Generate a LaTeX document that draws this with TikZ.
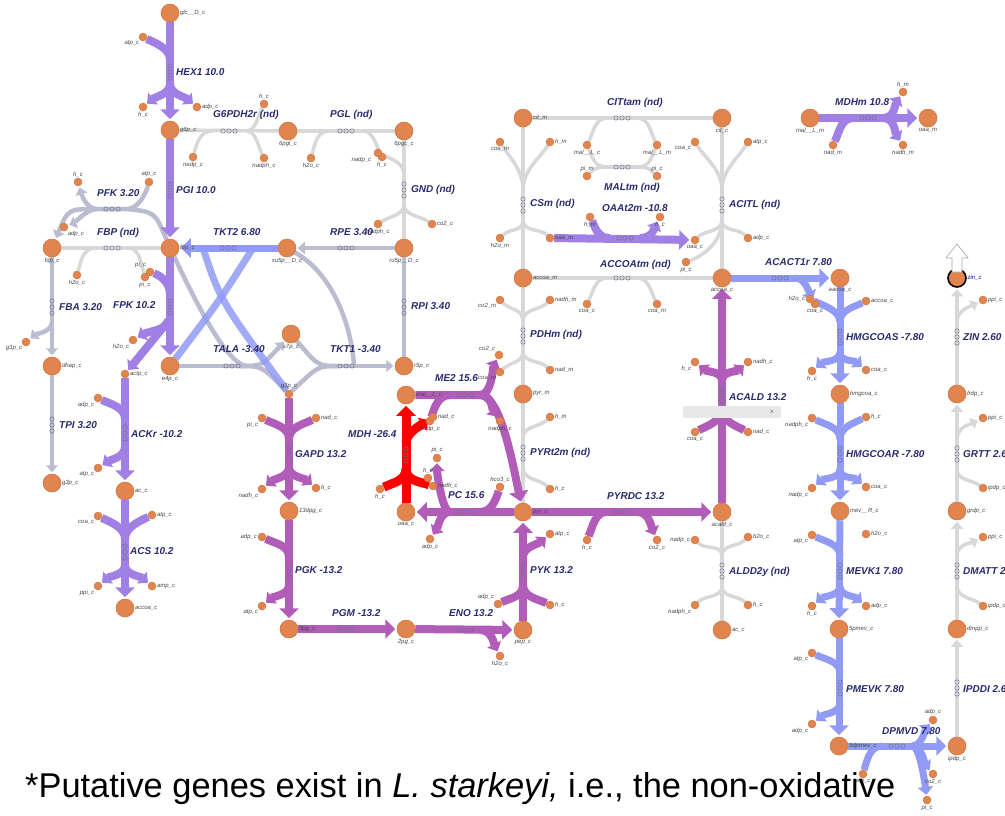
\documentclass[tikz,border=0pt]{standalone}
\usepackage{fontspec}
\setmainfont{Liberation Sans}
\usetikzlibrary{arrows.meta,calc}
\pgfdeclarelayer{bg}
\pgfsetlayers{bg,main}
\definecolor{metfill}{RGB}{226,132,78}
\definecolor{metdraw}{RGB}{205,112,62}
\definecolor{cpur}{RGB}{160,128,228}
\definecolor{cblue}{RGB}{145,155,245}
\definecolor{cglv}{RGB}{188,188,208}
\definecolor{cgry}{RGB}{216,216,216}
\definecolor{cmag}{RGB}{178,92,186}
\definecolor{cred}{RGB}{255,0,0}
\definecolor{rtext}{RGB}{42,42,112}
\definecolor{mtext}{RGB}{70,70,70}
\definecolor{mkc}{RGB}{110,110,140}
\definecolor{boxg}{RGB}{232,232,232}
\newcommand\mkv[2]{\foreach \q in {-6,0,6}{\draw[mk] (#1,#2+\q) circle[radius=2.2pt];}}
\newcommand\mkh[2]{\foreach \q in {-6,0,6}{\draw[mk] (#1+\q,#2) circle[radius=2.2pt];}}
\tikzset{
  every label/.style={font=\fontsize{6}{6}\selectfont\itshape,text=mtext,inner sep=0.6pt},
  met/.style={circle,fill=metfill,draw=metdraw,line width=0.5pt,inner sep=0pt,minimum size=18pt,label distance=0pt},
  sm/.style={circle,fill=metfill,draw=metdraw,line width=0.4pt,inner sep=0pt,minimum size=8pt,label distance=0pt},
  rl/.style={font=\fontsize{10}{11}\selectfont\bfseries\itshape,text=rtext,anchor=west,inner sep=0pt},
  pur/.style={draw=cpur,line width=8pt},
  blu/.style={draw=cblue,line width=7pt},
  mag/.style={draw=cmag,line width=8pt},
  rdx/.style={draw=cred,line width=9pt},
  glv/.style={draw=cglv,line width=4.5pt},
  gry/.style={draw=cgry,line width=3.5pt},
  ah/.style={-{Triangle[length=10pt,width=19pt]},shorten >=1.5pt},
  ahb/.style={-{Triangle[length=8pt,width=15pt]},shorten >=1pt},
  ahs/.style={-{Triangle[length=7pt,width=12pt]},shorten >=1.5pt},
  mk/.style={draw=mkc,line width=0.5pt},
}
\begin{document}
\begin{tikzpicture}[x=1pt,y=-1pt]
\useasboundingbox (0,0) rectangle (1005,815);
% ===== big metabolites
\node[met,label={right:glc\_\_D\_c}] (glc) at (170,13) {};
\node[met,label={right:g6p\_c}] (g6p) at (170,130) {};
\node[met,label={below:6pgl\_c}] (pgl6) at (288,131) {};
\node[met,label={below:6pgc\_c}] (pgc6) at (404,131) {};
\node[met,label={right:f6p\_c}] (f6p) at (170,248) {};
\node[met,label={below:fdp\_c}] (fdp) at (52,248) {};
\node[met,label={below:xu5p\_\_D\_c}] (xu5p) at (287,248) {};
\node[met,label={below:ru5p\_\_D\_c}] (ru5p) at (404,248) {};
\node[met,label={below:s7p\_c}] (s7p) at (291,334) {};
\node[met,label={right:r5p\_c}] (r5p) at (404,366) {};
\node[met,label={below:e4p\_c}] (e4p) at (170,366) {};
\node[met,label={right:dhap\_c}] (dhap) at (52,366) {};
\node[met,label={right:g3p\_c}] (g3pL) at (52,483) {};
\node[met,label={right:ac\_c}] (acc) at (125,491) {};
\node[met,label={right:accoa\_c}] (accoaL) at (125,608) {};
\node[met,label={right:13dpg\_c}] (dpg13) at (289,511) {};
\node[met,label={right:3pg\_c}] (pg3) at (289,629) {};
\node[met,label={below:2pg\_c}] (pg2) at (406,629) {};
\node[met,label={below:pep\_c}] (pep) at (523,630) {};
\node[met,label={right:pyr\_c}] (pyr) at (523,512) {};
\node[met,label={below:oaa\_c}] (oaa) at (406,512) {};
\node[met,label={right:mal\_\_L\_c}] (malc) at (406,395) {};
\node[met,label={right:pyr\_m}] (pyrm) at (523,394) {};
\node[met,label={right:accoa\_m}] (accoam) at (523,278) {};
\node[met,label={right:cit\_m}] (citm) at (523,118) {};
\node[met,label={below:cit\_c}] (citc) at (722,118) {};
\node[met,label={below:accoa\_c}] (accoaR) at (722,278) {};
\node[met,label={below:acald\_c}] (acald) at (722,512) {};
\node[met,label={right:ac\_c}] (acR) at (722,630) {};
\node[met,label={below:mal\_\_L\_m}] (malm) at (810,118) {};
\node[met,label={below:oaa\_m}] (oaam) at (928,118) {};
\node[met,label={below:aacoa\_c}] (aacoa) at (840,278) {};
\node[met,label={right:hmgcoa\_c}] (hmgcoa) at (840,394) {};
\node[met,label={right:mev\_\_R\_c}] (mev) at (840,511) {};
\node[met,label={right:5pmev\_c}] (pmev5) at (839,629) {};
\node[met,label={right:5dpmev\_c}] (dpmev5) at (839,746) {};
\node[met,label={below:ipdp\_c}] (ipdp) at (957,746) {};
\node[met,label={right:dmpp\_c}] (dmpp) at (957,629) {};
\node[met,label={right:grdp\_c}] (grdp) at (957,511) {};
\node[met,label={right:frdp\_c}] (frdp) at (957,394) {};
\node[met,draw=black,line width=1.6pt,label={[text=blue!70!black]right:zin\_c}] (zin) at (957,278) {};
% ===== small metabolites
\node[sm,label={above:g3p\_c}] (g3pS) at (289,394) {};
\node[sm,label={right:actp\_c}] (actp) at (125,374) {};
\node[sm,label={below left:atp\_c}] (hex_atp) at (143,37) {};
\node[sm,label={below:h\_c}] (hex_h) at (143,107) {};
\node[sm,label={right:adp\_c}] (hex_adp) at (197,107) {};
\node[sm,label={below:nadp\_c}] (g6pd_nadp) at (193,157) {};
\node[sm,label={above:h\_c}] (g6pd_h) at (264,104) {};
\node[sm,label={below:nadph\_c}] (g6pd_nadph) at (264,158) {};
\node[sm,label={below:h2o\_c}] (pgl_h2o) at (311,158) {};
\node[sm,label={below:h\_c}] (pgl_h) at (382,157) {};
\node[sm,label={[xshift=-3pt]below left:nadp\_c}] (gnd_nadp) at (378,153) {};
\node[sm,label={right:co2\_c}] (gnd_co2) at (432,224) {};
\node[sm,label={below:nadph\_c}] (gnd_nadph) at (378,224) {};
\node[sm,label={above:atp\_c}] (pfk_atp) at (149,182) {};
\node[sm,label={above:h\_c}] (pfk_h) at (78,182) {};
\node[sm,label={below right:adp\_c}] (pfk_adp) at (64,227) {};
\node[sm,label={below:h2o\_c}] (fbp_h2o) at (77,275) {};
\node[sm,label={below:pi\_c}] (fbp_pi) at (145,277) {};
\node[sm,label={above left:pi\_c}] (fpk_pi) at (150,272) {};
\node[sm,label={below left:g3p\_c}] (fba_g3p) at (26,342) {};
\node[sm,label={below left:h2o\_c}] (fpk_h2o) at (133,340) {};
\node[sm,label={below left:adp\_c}] (ack_adp) at (98,398) {};
\node[sm,label={below left:atp\_c}] (ack_atp) at (98,468) {};
\node[sm,label={below left:coa\_c}] (acs_coa) at (98,516) {};
\node[sm,label={right:atp\_c}] (acs_atp) at (152,515) {};
\node[sm,label={below left:ppi\_c}] (acs_ppi) at (98,586) {};
\node[sm,label={right:amp\_c}] (acs_amp) at (152,586) {};
\node[sm,label={below left:pi\_c}] (gapd_pi) at (262,418) {};
\node[sm,label={right:nad\_c}] (gapd_nad) at (316,418) {};
\node[sm,label={below left:nadh\_c}] (gapd_nadh) at (262,489) {};
\node[sm,label={right:h\_c}] (gapd_h) at (316,488) {};
\node[sm,label={left:adp\_c}] (pgk_adp) at (262,537) {};
\node[sm,label={below left:atp\_c}] (pgk_atp) at (262,606) {};
\node[sm,label={below:h2o\_c}] (eno_h2o) at (500,656) {};
\node[sm,label={above left:adp\_c}] (pyk_adp) at (498,604) {};
\node[sm,label={right:h\_c}] (pyk_h) at (550,605) {};
\node[sm,label={right:atp\_c}] (pyk_atp) at (550,534) {};
\node[sm,label={below:h\_c}] (pyrdc_h) at (587,540) {};
\node[sm,label={below:co2\_c}] (pyrdc_co2) at (657,540) {};
\node[sm,label={below:coa\_c}] (acald_coa) at (695,432) {};
\node[sm,label={right:nad\_c}] (acald_nad) at (748,432) {};
\node[sm,label={below left:h\_c}] (acald_h) at (695,362) {};
\node[sm,label={right:nadh\_c}] (acald_nadh) at (748,362) {};
\node[sm,label={below:nadp\_c}] (me2_nadp) at (430,421) {};
\node[sm,label={right:nad\_c}] (mdh_nad) at (433,417) {};
\node[sm,label={above left:co2\_c}] (me2_co2) at (499,355) {};
\node[sm,label={below:nadph\_c}] (me2_nadph) at (500,421) {};
\node[sm,label={below:h\_c}] (mdh_h) at (380,489) {};
\node[sm,label={above:h\_c}] (pc_h) at (428,478) {};
\node[sm,label={right:nadh\_c}] (mdh_nadh) at (433,486) {};
\node[sm,label={above:pi\_c}] (pc_pi) at (437,458) {};
\node[sm,label={above:hco3\_c}] (pc_hco3) at (500,487) {};
\node[sm,label={below:adp\_c}] (pc_adp) at (430,539) {};
\node[sm,label={below:h\_m}] (oaa_hm) at (590,217) {};
\node[sm,label={below:h\_c}] (oaa_hc) at (660,217) {};
\node[sm,label={right:oaa\_m}] (oaam_s) at (550,238) {};
\node[sm,label={below:oaa\_c}] (oaac_s) at (695,240) {};
\node[sm,label={below:nad\_m}] (mdhm_nad) at (833,145) {};
\node[sm,label={above:h\_m}] (mdhm_h) at (903,92) {};
\node[sm,label={below:nadh\_m}] (mdhm_nadh) at (903,145) {};
\node[sm,label={below:mal\_\_L\_c}] (cit_malc) at (587,145) {};
\node[sm,label={below:mal\_\_L\_m}] (cit_malm) at (657,145) {};
\node[sm,label={[yshift=-1pt]above:pi\_m}] (malt_pim) at (587,176) {};
\node[sm,label={[yshift=-1pt]above:pi\_c}] (malt_pic) at (657,176) {};
\node[sm,label={below:coa\_m}] (csm_coam) at (500,142) {};
\node[sm,label={right:h\_m}] (csm_hm) at (550,142) {};
\node[sm,label={below:h2o\_m}] (csm_h2o) at (500,238) {};
\node[sm,label={below left:coa\_c}] (acitl_coa) at (695,142) {};
\node[sm,label={right:atp\_c}] (acitl_atp) at (748,142) {};
\node[sm,label={right:adp\_c}] (acitl_adp) at (748,238) {};
\node[sm,label={below:pi\_c}] (acitl_pi) at (686,262) {};
\node[sm,label={below:coa\_c}] (accoatm_coac) at (587,304) {};
\node[sm,label={below:coa\_m}] (accoatm_coam) at (657,304) {};
\node[sm,label={below left:co2\_m}] (pdh_co2) at (500,300) {};
\node[sm,label={right:nadh\_m}] (pdh_nadh) at (550,300) {};
\node[sm,label={below left:coa\_m}] (pdh_coa) at (500,372) {};
\node[sm,label={right:nad\_m}] (pdh_nad) at (550,370) {};
\node[sm,label={right:h\_m}] (pyrt_hm) at (550,417) {};
\node[sm,label={right:h\_c}] (pyrt_hc) at (550,489) {};
\node[sm,label={left:nadp\_c}] (ald_nadp) at (695,540) {};
\node[sm,label={right:h2o\_c}] (ald_h2o) at (748,537) {};
\node[sm,label={below left:nadph\_c}] (ald_nadph) at (695,605) {};
\node[sm,label={right:h\_c}] (ald_h) at (748,605) {};
\node[sm,label={below:coa\_c}] (act_coa) at (815,304) {};
\node[sm,label={left:h2o\_c}] (hmgs_h2o) at (810,299) {};
\node[sm,label={right:accoa\_c}] (hmgs_accoa) at (866,301) {};
\node[sm,label={below:h\_c}] (hmgs_h) at (812,371) {};
\node[sm,label={right:coa\_c}] (hmgs_coa) at (866,370) {};
\node[sm,label={below left:nadph\_c}] (hmgr_nadph) at (812,418) {};
\node[sm,label={right:h\_c}] (hmgr_h) at (866,417) {};
\node[sm,label={below left:nadp\_c}] (hmgr_nadp) at (812,488) {};
\node[sm,label={right:coa\_c}] (hmgr_coa) at (866,487) {};
\node[sm,label={below left:atp\_c}] (mevk_atp) at (812,535) {};
\node[sm,label={right:h2o\_c}] (mevk_h2o) at (866,534) {};
\node[sm,label={below:h\_c}] (mevk_h) at (812,606) {};
\node[sm,label={right:adp\_c}] (mevk_adp) at (866,606) {};
\node[sm,label={below left:atp\_c}] (pmevk_atp) at (812,653) {};
\node[sm,label={below left:adp\_c}] (pmevk_adp) at (812,724) {};
\node[sm,label={below:atp\_c}] (dpm_atp) at (863,774) {};
\node[sm,label={above:adp\_c}] (dpm_adp) at (933,720) {};
\node[sm,label={below:co2\_c}] (dpm_co2) at (933,774) {};
\node[sm,label={below:pi\_c}] (dpm_pi) at (927,800) {};
\node[sm,label={right:ipdp\_c}] (dmatt_ipdp) at (983,606) {};
\node[sm,label={right:ppi\_c}] (dmatt_ppi) at (983,537) {};
\node[sm,label={right:ipdp\_c}] (grtt_ipdp) at (983,488) {};
\node[sm,label={right:ppi\_c}] (grtt_ppi) at (983,418) {};
\node[sm,label={right:ppi\_c}] (zin_ppi) at (983,300) {};
% ===== reaction centres
\coordinate (HEXr) at (170,72);  \coordinate (PGIr) at (170,190);
\coordinate (G6PD) at (229,131); \coordinate (PGLr) at (346,131);
\coordinate (GNDr) at (404,190); \coordinate (FBPr) at (112,248);
\coordinate (PFKr) at (112,209); \coordinate (FBAr) at (52,307);
\coordinate (TPIr) at (52,425);  \coordinate (FPKr) at (170,307);
\coordinate (ACKc) at (125,433); \coordinate (ACSr) at (125,552);
\coordinate (TK2r) at (228,248); \coordinate (RPEr) at (346,248);
\coordinate (RPIr) at (404,307); \coordinate (TALr) at (232,366);
\coordinate (TK1r) at (346,366); \coordinate (GAPr) at (289,453);
\coordinate (PGKr) at (289,571); \coordinate (PGMr) at (346,629);
\coordinate (ENOr) at (465,630); \coordinate (PYKr) at (523,571);
\coordinate (PDCr) at (622,512); \coordinate (ALDc) at (722,395);
\coordinate (ME2r) at (465,395); \coordinate (MDHr) at (406,455);
\coordinate (PCr) at (465,512);  \coordinate (OAAr) at (625,238);
\coordinate (MDMr) at (868,118); \coordinate (CITr) at (622,118);
\coordinate (MALr) at (622,167); \coordinate (CSr) at (523,205);
\coordinate (ACITr) at (722,205);\coordinate (ACCr) at (622,278);
\coordinate (PDHr) at (523,336); \coordinate (PYRTr) at (523,453);
\coordinate (ALDr) at (722,571); \coordinate (ACTr) at (780,278);
\coordinate (HMSr) at (840,337); \coordinate (HMRr) at (840,454);
\coordinate (MEVr) at (840,571); \coordinate (PMVr) at (840,688);
\coordinate (DPMr) at (897,746); \coordinate (IPDr) at (957,688);
\coordinate (DMAr) at (957,571); \coordinate (GRTr) at (957,454);
\coordinate (ZINr) at (957,337);
\begin{pgfonlayer}{bg}
% ---------- grey (nd) reactions
\draw[gry] (g6p) -- (pgl6);
\draw[gry] (g6pd_nadp) .. controls +(4,-14) and +(-12,0) .. ($(G6PD)+(-17,0)$);
\draw[gry] ($(G6PD)+(17,0)$) .. controls +(10,0) and +(-6,12) .. (g6pd_h);
\draw[gry] ($(G6PD)+(17,0)$) .. controls +(10,0) and +(-6,-12) .. (g6pd_nadph);
\draw[gry] (pgl6) -- (pgc6);
\draw[gry] (pgl_h2o) .. controls +(4,-14) and +(-12,0) .. ($(PGLr)+(-17,0)$);
\draw[gry] ($(PGLr)+(17,0)$) .. controls +(10,0) and +(-6,-12) .. (pgl_h);
\draw[gry] (pgc6) -- (ru5p);
\draw[gry] (gnd_nadp) .. controls +(14,6) and +(0,-12) .. ($(GNDr)+(0,-15)$);
\draw[gry] ($(GNDr)+(0,15)$) .. controls +(0,10) and +(-12,-8) .. (gnd_co2);
\draw[gry] ($(GNDr)+(0,15)$) .. controls +(0,10) and +(12,-8) .. (gnd_nadph);
\draw[gry] (fdp) -- (f6p);
\draw[gry] (fbp_h2o) .. controls +(4,-14) and +(-12,0) .. ($(FBPr)+(-17,0)$);
\draw[gry] ($(FBPr)+(17,0)$) .. controls +(10,0) and +(-4,-14) .. (fbp_pi);
\draw[gry] (citm) -- (citc);
\draw[gry] ($(CITr)+(-15,0)$) .. controls +(-12,0) and +(6,-12) .. (cit_malc);
\draw[gry] ($(CITr)+(15,0)$) .. controls +(12,0) and +(-6,-12) .. (cit_malm);
\draw[gry] ($(MALr)+(-15,0)$) -- ($(MALr)+(15,0)$);
\draw[gry] (cit_malc) .. controls +(6,14) and +(-12,0) .. ($(MALr)+(-15,0)$);
\draw[gry] (malt_pim) .. controls +(6,-6) and +(-12,0) .. ($(MALr)+(-15,0)$);
\draw[gry] ($(MALr)+(15,0)$) .. controls +(12,0) and +(-6,14) .. (cit_malm);
\draw[gry] ($(MALr)+(15,0)$) .. controls +(12,0) and +(-6,-6) .. (malt_pic);
\draw[gry] (accoam) -- (citm);
\draw[gry] ($(CSr)+(0,-15)$) .. controls +(0,-20) and +(10,16) .. (csm_coam);
\draw[gry] ($(CSr)+(0,-15)$) .. controls +(0,-20) and +(-10,16) .. (csm_hm);
\draw[gry] (csm_h2o) .. controls +(10,-10) and +(0,12) .. ($(CSr)+(0,15)$);
\draw[gry] (oaam_s) .. controls +(-10,-10) and +(0,12) .. ($(CSr)+(0,15)$);
\draw[gry] (citc) -- (accoaR);
\draw[gry] (acitl_coa) .. controls +(10,16) and +(0,-20) .. ($(ACITr)+(0,-15)$);
\draw[gry] (acitl_atp) .. controls +(-10,16) and +(0,-20) .. ($(ACITr)+(0,-15)$);
\draw[gry] ($(ACITr)+(0,15)$) .. controls +(0,12) and +(10,-10) .. (oaac_s);
\draw[gry] ($(ACITr)+(0,15)$) .. controls +(0,12) and +(-10,-10) .. (acitl_adp);
\draw[gry] ($(ACITr)+(0,15)$) .. controls +(0,25) and +(12,-4) .. (acitl_pi);
\draw[gry] (accoam) -- (accoaR);
\draw[gry] ($(ACCr)+(-15,0)$) .. controls +(-12,0) and +(6,-12) .. (accoatm_coac);
\draw[gry] ($(ACCr)+(15,0)$) .. controls +(12,0) and +(-6,-12) .. (accoatm_coam);
\draw[gry] (pyrm) -- (accoam);
\draw[gry] ($(PDHr)+(0,-15)$) .. controls +(0,-12) and +(10,10) .. (pdh_co2);
\draw[gry] ($(PDHr)+(0,-15)$) .. controls +(0,-12) and +(-10,10) .. (pdh_nadh);
\draw[gry] (pdh_coa) .. controls +(10,-10) and +(0,12) .. ($(PDHr)+(0,15)$);
\draw[gry] (pdh_nad) .. controls +(-10,-10) and +(0,12) .. ($(PDHr)+(0,15)$);
\draw[gry] (pyr) -- (pyrm);
\draw[gry] ($(PYRTr)+(0,-15)$) .. controls +(0,-12) and +(-10,10) .. (pyrt_hm);
\draw[gry] (pyrt_hc) .. controls +(-10,-10) and +(0,12) .. ($(PYRTr)+(0,15)$);
\draw[gry] (acald) -- (acR);
\draw[gry] (ald_nadp) .. controls +(10,10) and +(0,-12) .. ($(ALDr)+(0,-15)$);
\draw[gry] (ald_h2o) .. controls +(-10,10) and +(0,-12) .. ($(ALDr)+(0,-15)$);
\draw[gry] ($(ALDr)+(0,15)$) .. controls +(0,12) and +(10,-10) .. (ald_nadph);
\draw[gry] ($(ALDr)+(0,15)$) .. controls +(0,12) and +(-10,-10) .. (ald_h);
\draw[gry,ahs] (ipdp) -- (dmpp);
\draw[gry,ahs] (dmpp) -- (grdp);
\draw[gry] (dmatt_ipdp) .. controls +(-10,-8) and +(0,12) .. ($(DMAr)+(0,15)$);
\draw[gry,ahs] ($(DMAr)+(0,-15)$) .. controls +(0,-12) and +(-12,6) .. (dmatt_ppi);
\draw[gry,ahs] (grdp) -- (frdp);
\draw[gry] (grtt_ipdp) .. controls +(-10,-8) and +(0,12) .. ($(GRTr)+(0,15)$);
\draw[gry,ahs] ($(GRTr)+(0,-15)$) .. controls +(0,-12) and +(-12,6) .. (grtt_ppi);
\draw[gry,ahs] (frdp) -- (zin);
\draw[gry,ahs] ($(ZINr)+(0,-15)$) .. controls +(0,-12) and +(-12,6) .. (zin_ppi);
% ---------- grey-lavender
\draw[glv,ahs] (f6p) .. controls (155,212) .. ($(PFKr)+(15,0)$) -- ($(PFKr)+(-15,0)$) .. controls (68,209) .. (fdp);
\draw[glv] (pfk_atp) .. controls +(-4,14) and +(10,0) .. ($(PFKr)+(15,0)$);
\draw[glv,ahs] ($(PFKr)+(-15,0)$) .. controls +(-10,0) and +(4,14) .. (pfk_h);
\draw[glv,ahs] ($(PFKr)+(-15,0)$) .. controls +(-10,0) and +(10,-4) .. (pfk_adp);
\draw[glv,ahs] (fdp) -- (dhap);
\draw[glv,ahs] ($(FBAr)+(0,15)$) .. controls +(0,10) and +(10,-8) .. (fba_g3p);
\draw[glv,ahs] (dhap) -- (g3pL);
\draw[glv,ahs] (ru5p) -- (xu5p);
\draw[glv] (r5p) -- (ru5p);
\draw[glv] (e4p) -- ($(TALr)+(8,0)$);
\draw[glv,ahs] ($(TALr)+(8,0)$) .. controls (262,366) .. (s7p);
\draw[glv] ($(TALr)+(8,0)$) .. controls (262,366) .. (g3pS);
\draw[glv] (f6p) .. controls (195,300) and (225,362) .. ($(TALr)+(14,0)$);
\draw[glv,ahs] ($(TK1r)+(-8,0)$) -- (r5p);
\draw[glv] ($(TK1r)+(-8,0)$) .. controls (318,366) .. (s7p);
\draw[glv] ($(TK1r)+(-8,0)$) .. controls (318,366) .. (g3pS);
\draw[glv] (xu5p) .. controls (335,275) and (352,330) .. ($(TK1r)+(8,0)$);
% ---------- blue
\draw[blu,ah] (xu5p) -- (f6p);
\draw[blu,opacity=0.85] (e4p) .. controls (220,300) .. ($(TK2r)+(25,0)$);
\draw[blu,opacity=0.85] ($(TK2r)+(-25,0)$) .. controls (220,300) .. (g3pS);
\draw[blu,ah] (accoaR) -- (aacoa);
\draw[blu,ahb] ($(ACTr)+(15,0)$) .. controls +(10,0) and +(-6,-12) .. (act_coa);
\draw[blu,ah] (aacoa) -- (hmgcoa);
\draw[blu] (hmgs_h2o) .. controls +(12,6) and +(0,-12) .. ($(HMSr)+(0,-15)$);
\draw[blu] (hmgs_accoa) .. controls +(-12,6) and +(0,-12) .. ($(HMSr)+(0,-15)$);
\draw[blu,ahb] ($(HMSr)+(0,15)$) .. controls +(0,10) and +(12,-10) .. (hmgs_h);
\draw[blu,ahb] ($(HMSr)+(0,15)$) .. controls +(0,10) and +(-12,-10) .. (hmgs_coa);
\draw[blu,ah] (hmgcoa) -- (mev);
\draw[blu] (hmgr_nadph) .. controls +(12,6) and +(0,-12) .. ($(HMRr)+(0,-15)$);
\draw[blu] (hmgr_h) .. controls +(-12,6) and +(0,-12) .. ($(HMRr)+(0,-15)$);
\draw[blu,ahb] ($(HMRr)+(0,15)$) .. controls +(0,10) and +(12,-10) .. (hmgr_nadp);
\draw[blu,ahb] ($(HMRr)+(0,15)$) .. controls +(0,10) and +(-12,-10) .. (hmgr_coa);
\draw[blu,ah] (mev) -- (pmev5);
\draw[blu] (mevk_atp) .. controls +(12,6) and +(0,-12) .. ($(MEVr)+(0,-15)$);
\draw[blu,ahb] ($(MEVr)+(0,15)$) .. controls +(0,10) and +(12,-10) .. (mevk_h);
\draw[blu,ahb] ($(MEVr)+(0,15)$) .. controls +(0,10) and +(-12,-10) .. (mevk_adp);
\draw[blu,ah] (pmev5) -- (dpmev5);
\draw[blu] (pmevk_atp) .. controls +(12,6) and +(0,-12) .. ($(PMVr)+(0,-15)$);
\draw[blu,ahb] ($(PMVr)+(0,15)$) .. controls +(0,10) and +(12,-10) .. (pmevk_adp);
\draw[blu,ah] (dpmev5) -- (ipdp);
\draw[blu] (dpm_atp) .. controls +(4,-14) and +(-12,0) .. ($(DPMr)+(-15,0)$);
\draw[blu,ahb] ($(DPMr)+(15,0)$) .. controls +(10,0) and +(-8,10) .. (dpm_adp);
\draw[blu,ahb] ($(DPMr)+(15,0)$) .. controls +(10,0) and +(-8,-10) .. (dpm_co2);
\draw[blu,ahb] ($(DPMr)+(15,0)$) .. controls +(8,0) and +(-2,-16) .. (dpm_pi);
% ---------- purple
\draw[pur,ah] (glc) -- (g6p);
\draw[pur] (hex_atp) .. controls +(12,6) and +(0,-12) .. ($(HEXr)+(0,-12)$);
\draw[pur,ahb] ($(HEXr)+(0,12)$) .. controls +(0,10) and +(12,-10) .. (hex_h);
\draw[pur,ahb] ($(HEXr)+(0,12)$) .. controls +(0,10) and +(-12,-10) .. (hex_adp);
\draw[pur,ah] (g6p) -- (f6p);
\draw[pur,ah] (f6p) -- (e4p);
\draw[pur] (fpk_pi) .. controls +(12,4) and +(0,-10) .. ($(FPKr)+(0,-13)$);
\draw[pur,ahb] ($(FPKr)+(0,12)$) .. controls +(0,10) and +(14,-8) .. (fpk_h2o);
\draw[pur,ahb] ($(FPKr)+(0,12)$) -- (actp);
\draw[pur,ah] (actp) -- (acc);
\draw[pur] (ack_adp) .. controls +(12,6) and +(0,-12) .. ($(ACKc)+(0,-14)$);
\draw[pur,ahb] ($(ACKc)+(0,14)$) .. controls +(0,10) and +(12,-8) .. (ack_atp);
\draw[pur,ah] (acc) -- (accoaL);
\draw[pur] (acs_coa) .. controls +(12,6) and +(0,-12) .. ($(ACSr)+(0,-13)$);
\draw[pur] (acs_atp) .. controls +(-12,6) and +(0,-12) .. ($(ACSr)+(0,-13)$);
\draw[pur,ahb] ($(ACSr)+(0,13)$) .. controls +(0,10) and +(12,-10) .. (acs_ppi);
\draw[pur,ahb] ($(ACSr)+(0,13)$) .. controls +(0,10) and +(-12,-10) .. (acs_amp);
\draw[pur,ah] (oaam_s) -- (oaac_s);
\draw[pur] (oaa_hm) .. controls +(6,12) and +(-12,0) .. ($(OAAr)+(-15,0)$);
\draw[pur,ahb] ($(OAAr)+(15,0)$) .. controls +(12,0) and +(-6,12) .. (oaa_hc);
\draw[pur,ah] (malm) -- (oaam);
\draw[pur] (mdhm_nad) .. controls +(6,-12) and +(-12,0) .. ($(MDMr)+(-15,0)$);
\draw[pur,ahb] ($(MDMr)+(15,0)$) .. controls +(12,0) and +(-8,12) .. (mdhm_h);
\draw[pur,ahb] ($(MDMr)+(15,0)$) .. controls +(12,0) and +(-8,-12) .. (mdhm_nadh);
% ---------- magenta
\draw[mag,ah] (g3pS) -- (dpg13);
\draw[mag] (gapd_pi) .. controls +(12,6) and +(0,-12) .. ($(GAPr)+(0,-14)$);
\draw[mag] (gapd_nad) .. controls +(-12,6) and +(0,-12) .. ($(GAPr)+(0,-14)$);
\draw[mag,ahb] ($(GAPr)+(0,14)$) .. controls +(0,10) and +(12,-10) .. (gapd_nadh);
\draw[mag,ahb] ($(GAPr)+(0,14)$) .. controls +(0,10) and +(-12,-10) .. (gapd_h);
\draw[mag,ah] (dpg13) -- (pg3);
\draw[mag] (pgk_adp) .. controls +(12,6) and +(0,-12) .. ($(PGKr)+(0,-14)$);
\draw[mag,ahb] ($(PGKr)+(0,14)$) .. controls +(0,10) and +(12,-10) .. (pgk_atp);
\draw[mag,ah] (pg3) -- (pg2);
\draw[mag,ah] (pg2) -- (pep);
\draw[mag,ahb] ($(ENOr)+(15,0)$) .. controls +(12,0) and +(-6,-12) .. (eno_h2o);
\draw[mag,ah] (pep) -- (pyr);
\draw[mag] (pyk_adp) .. controls +(12,-6) and +(0,12) .. ($(PYKr)+(0,14)$);
\draw[mag] (pyk_h) .. controls +(-12,-6) and +(0,12) .. ($(PYKr)+(0,14)$);
\draw[mag,ahb] ($(PYKr)+(0,-14)$) .. controls +(0,-10) and +(-12,10) .. (pyk_atp);
\draw[mag,ah] (pyr) -- (acald);
\draw[mag] (pyrdc_h) .. controls +(6,-14) and +(-12,0) .. ($(PDCr)+(-15,0)$);
\draw[mag,ahb] ($(PDCr)+(15,0)$) .. controls +(12,0) and +(-6,-14) .. (pyrdc_co2);
\draw[mag,ah] (acald) -- (accoaR);
\draw[mag] (acald_coa) .. controls +(12,-6) and +(0,12) .. ($(ALDc)+(0,14)$);
\draw[mag] (acald_nad) .. controls +(-12,-6) and +(0,12) .. ($(ALDc)+(0,14)$);
\draw[mag,ahb] ($(ALDc)+(0,-14)$) .. controls +(0,-10) and +(12,10) .. (acald_h);
\draw[mag,ahb] ($(ALDc)+(0,-14)$) .. controls +(0,-10) and +(-12,10) .. (acald_nadh);
\draw[mag,ah] (malc) -- ($(ME2r)+(15,0)$) .. controls (500,395) and (512,460) .. (pyr);
\draw[mag] (me2_nadp) .. controls +(4,-12) and +(-12,0) .. ($(ME2r)+(-15,0)$);
\draw[mag,ahb] ($(ME2r)+(15,0)$) .. controls +(12,0) and +(-6,12) .. (me2_co2);
\draw[mag,ahb] ($(ME2r)+(15,0)$) .. controls +(12,0) and +(-8,-12) .. (me2_nadph);
\draw[mag,ah] (pyr) -- (oaa);
\draw[mag] (pc_hco3) .. controls +(-4,12) and +(12,0) .. ($(PCr)+(15,0)$);
\draw[mag,ahb] ($(PCr)+(-15,0)$) .. controls +(-8,0) and +(0,14) .. (pc_pi);
\draw[mag,ahb] ($(PCr)+(-15,0)$) .. controls +(-10,0) and +(8,-12) .. (pc_adp);
% ---------- red
\draw[rdx,ah] (oaa) -- (malc);
\draw[rdx,ahb] ($(MDHr)+(0,-12)$) .. controls +(0,-10) and +(-12,8) .. (mdh_nad);
\draw[rdx] (mdh_h) .. controls +(12,-6) and +(0,12) .. ($(MDHr)+(0,14)$);
\draw[rdx] (mdh_nadh) .. controls +(-12,-4) and +(0,12) .. ($(MDHr)+(0,14)$);
% ---------- markers
\mkv{170}{72} \mkv{170}{190} \mkh{229}{131} \mkh{346}{131} \mkv{404}{190}
\mkh{112}{248} \mkh{112}{209} \mkv{52}{307} \mkv{52}{425} \mkv{170}{307}
\mkv{125}{433} \mkv{125}{552} \mkh{228}{248} \mkh{346}{248} \mkv{404}{307}
\mkh{232}{366} \mkh{346}{366} \mkv{289}{453} \mkv{289}{571} \mkh{346}{629}
\mkh{465}{630} \mkv{523}{571} \mkh{622}{512} \mkv{722}{395} \mkh{465}{395}
\mkv{406}{455} \mkh{465}{512} \mkh{625}{238} \mkh{868}{118} \mkh{622}{118}
\mkh{622}{167} \mkv{523}{205} \mkv{722}{205} \mkh{622}{278} \mkv{523}{336}
\mkv{523}{453} \mkv{722}{571} \mkh{780}{278} \mkv{840}{337} \mkv{840}{454}
\mkv{840}{571} \mkv{840}{688} \mkh{897}{746} \mkv{957}{688} \mkv{957}{571}
\mkv{957}{454} \mkv{957}{337}
\end{pgfonlayer}
% ===== misc shapes
\draw[draw=gray!70,fill=white,line width=0.6pt] (952,272) -- (952,258) -- (946,258) -- (957,244) -- (968,258) -- (962,258) -- (962,272) -- cycle;
\node[fill=boxg,minimum width=98pt,minimum height=12pt,inner sep=0pt] (gbox) at (732,412) {};
\node[text=gray,font=\fontsize{8}{8}\selectfont] (gx) at (772,412) {×};
% ===== reaction labels
\node[rl] (lHEX) at (176,72) {HEX1 10.0};
\node[rl] (lG6P) at (213,115) {G6PDH2r (nd)};
\node[rl] (lPGL) at (330,115) {PGL (nd)};
\node[rl] (lGND) at (411,190) {GND (nd)};
\node[rl] (lPGI) at (176,190) {PGI 10.0};
\node[rl] (lPFK) at (97,193) {PFK 3.20};
\node[rl] (lFBP) at (97,233) {FBP (nd)};
\node[rl] (lTK2) at (213,232) {TKT2 6.80};
\node[rl] (lRPE) at (330,232) {RPE 3.40};
\node[rl] (lFBA) at (59,307) {FBA 3.20};
\node[rl] (lFPK) at (113,305) {FPK 10.2};
\node[rl] (lRPI) at (411,306) {RPI 3.40};
\node[rl] (lTAL) at (213,349) {TALA -3.40};
\node[rl] (lTK1) at (330,349) {TKT1 -3.40};
\node[rl] (lTPI) at (59,425) {TPI 3.20};
\node[rl] (lACK) at (131,434) {ACKr -10.2};
\node[rl] (lGAP) at (295,454) {GAPD 13.2};
\node[rl] (lMDH) at (348,434) {MDH -26.4};
\node[rl] (lME2) at (435,378) {ME2 15.6};
\node[rl] (lPC) at (448,495) {PC 15.6};
\node[rl] (lACS) at (130,551) {ACS 10.2};
\node[rl] (lPGK) at (295,570) {PGK -13.2};
\node[rl] (lPGM) at (332,613) {PGM -13.2};
\node[rl] (lENO) at (449,613) {ENO 13.2};
\node[rl] (lPYK) at (530,570) {PYK 13.2};
\node[rl] (lPDC) at (607,496) {PYRDC 13.2};
\node[rl] (lALD) at (729,397) {ACALD 13.2};
\node[rl] (lPYT) at (530,453) {PYRt2m (nd)};
\node[rl] (lPDH) at (530,335) {PDHm (nd)};
\node[rl] (lACC) at (600,265) {ACCOAtm (nd)};
\node[rl] (lOAA) at (602,208) {OAAt2m -10.8};
\node[rl] (lMAL) at (604,188) {MALtm (nd)};
\node[rl] (lCS) at (530,204) {CSm (nd)};
\node[rl] (lCIT) at (607,103) {CITtam (nd)};
\node[rl] (lACI) at (729,205) {ACITL (nd)};
\node[rl] (lMDM) at (835,102) {MDHm 10.8};
\node[rl] (lACT) at (765,262) {ACACT1r 7.80};
\node[rl] (lHMS) at (846,337) {HMGCOAS -7.80};
\node[rl] (lHMR) at (846,454) {HMGCOAR -7.80};
\node[rl] (lMEV) at (846,571) {MEVK1 7.80};
\node[rl] (lPMV) at (846,689) {PMEVK 7.80};
\node[rl] (lDPM) at (882,731) {DPMVD 7.80};
\node[rl] (lALY) at (729,572) {ALDD2y (nd)};
\node[rl] (lZIN) at (963,337) {ZIN 2.60};
\node[rl] (lGRT) at (963,454) {GRTT 2.60};
\node[rl] (lDMA) at (963,571) {DMATT 2.60};
\node[rl] (lIPD) at (963,689) {IPDDI 2.60};
% ===== note
\node[anchor=base west,inner sep=0pt,font=\fontsize{34.4}{40}\selectfont] (note) at (25,797) {*Putative genes exist in \textit{L. starkeyi,} i.e., the non-oxidative};
\end{tikzpicture}
\end{document}
